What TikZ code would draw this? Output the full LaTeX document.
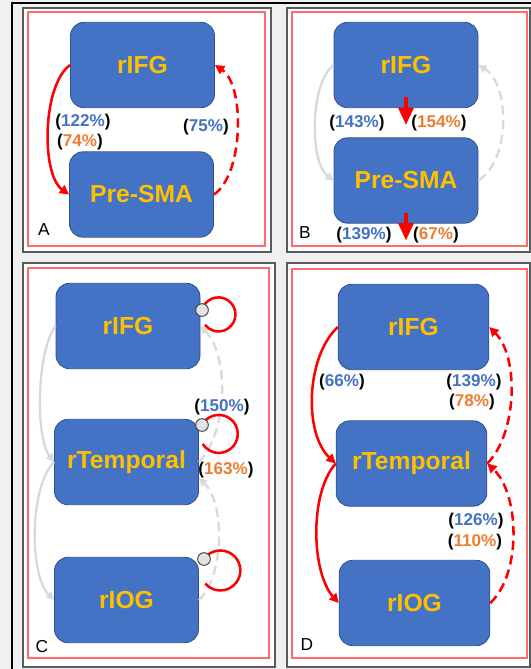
\documentclass[tikz,border=0pt]{standalone}
\usepackage{fontspec}
\setmainfont{Liberation Sans}
\usetikzlibrary{arrows.meta}
\definecolor{boxBlue}{HTML}{4472C4}
\definecolor{boxEdge}{HTML}{2F528F}
\definecolor{labelGold}{HTML}{FFC000}
\definecolor{pctBlue}{HTML}{4472C4}
\definecolor{pctOrange}{HTML}{ED7D31}
\definecolor{linkRed}{HTML}{FF0000}
\definecolor{linkGray}{HTML}{D9D9D9}
\definecolor{pageGray}{HTML}{F0F0F0}
\definecolor{frameInk}{HTML}{5A5A5A}
\definecolor{frameRed}{HTML}{FF6A6A}
\definecolor{knobGray}{HTML}{E3E3E3}
\tikzset{
  regionBox/.style={
    rectangle,
    rounded corners=10pt,
    draw=boxEdge,
    fill=boxBlue,
    line width=0.6pt,
    minimum width=108pt,
    minimum height=64pt,
    text=labelGold,
    font=\fontsize{18.5}{20}\selectfont\bfseries
  },
  pctLabel/.style={
    font=\fontsize{12.8}{14}\selectfont\bfseries,
    text=black,
    inner sep=0pt
  },
  panelTag/.style={
    font=\fontsize{13}{15}\selectfont,
    inner sep=0pt
  },
  panelFrame/.style={
    draw=frameInk,
    fill=white,
    line width=1.2pt
  },
  panelInner/.style={
    draw=frameRed,
    line width=0.8pt
  },
  redLink/.style={
    -{Triangle[length=7pt,width=7pt]},
    line width=1.9pt,
    draw=linkRed
  },
  redDashLink/.style={
    redLink,
    dash pattern=on 7pt off 4pt
  },
  grayLink/.style={
    -{Triangle[length=6pt,width=6pt]},
    line width=1.7pt,
    draw=linkGray
  },
  grayDashLink/.style={
    grayLink,
    dash pattern=on 7pt off 4pt
  },
  dropArrow/.style={
    -{Triangle[length=13pt,width=11pt]},
    line width=3pt,
    draw=linkRed
  },
  knob/.style={
    circle,
    draw=black!75,
    fill=knobGray,
    line width=0.7pt,
    minimum size=9.5pt,
    inner sep=0pt
  },
  selfLoop/.style={
    line width=1.9pt,
    draw=linkRed
  }
}

\begin{document}
\begin{tikzpicture}[x=0.75pt,y=-0.75pt]
  \useasboundingbox (0,0) rectangle (531,669);
  \fill[pageGray] (0,0) rectangle (531,669);
  \draw[black,line width=0.8pt] (531,3) -- (12,3) -- (12,669);
  % panel frames
  \draw[panelFrame] (23,8) rectangle (271,252);
  \draw[panelInner] (28,12) rectangle (265,246);
  \draw[panelFrame] (287,8) rectangle (530,252);
  \draw[panelInner] (292,12) rectangle (527,246);
  \draw[panelFrame] (23,263) rectangle (275,667);
  \draw[panelInner] (28,268) rectangle (269,658);
  \draw[panelFrame] (287,263) rectangle (530,667);
  \draw[panelInner] (292,269) rectangle (527,658);

  % A
  \node[regionBox] (aIFG) at (142.5,65) {rIFG};
  \node[regionBox] (aSMA) at (141.5,194.5) {Pre-SMA};
  \draw[redLink] (aIFG.west) .. controls +(-28,20) and +(-28,-20) .. (aSMA.west);
  \draw[redDashLink] (aSMA.east) .. controls +(30,-20) and +(30,20) .. (aIFG.east);
  \node[pctLabel] (aP1) at (83,122) {(\textcolor{pctBlue}{122\%})};
  \node[pctLabel] (aP2) at (80,142) {(\textcolor{pctOrange}{74\%})};
  \node[pctLabel] (aP3) at (206,127) {(\textcolor{pctBlue}{75\%})};
  \node[panelTag] (aTag) at (44,230) {A};

  % B
  \node[regionBox] (bIFG) at (406,65) {rIFG};
  \node[regionBox] (bSMA) at (406,180.5) {Pre-SMA};
  \draw[grayLink] (bIFG.west) .. controls +(-24,18) and +(-24,-18) .. (bSMA.west);
  \draw[grayDashLink] (bSMA.east) .. controls +(32,-20) and +(32,20) .. (bIFG.east);
  \draw[dropArrow] ([yshift=8.25pt]bIFG.south) -- ++(0,28);
  \draw[dropArrow] ([yshift=8.25pt]bSMA.south) -- ++(0,28);
  \node[pctLabel] (bP1) at (357,123) {(\textcolor{pctBlue}{143\%})};
  \node[pctLabel] (bP2) at (439,123) {(\textcolor{pctOrange}{154\%})};
  \node[pctLabel] (bP3) at (364,235) {(\textcolor{pctBlue}{139\%})};
  \node[pctLabel] (bP4) at (436,235) {(\textcolor{pctOrange}{67\%})};
  \node[panelTag] (bTag) at (305,233) {B};

  % C
  \node[regionBox] (cIFG) at (128,326) {rIFG};
  \node[regionBox] (cTemp) at (126.5,462) {rTemporal};
  \node[regionBox] (cIOG) at (126.5,600) {rIOG};
  \draw[grayLink] (cIFG.west) .. controls +(-19,25) and +(-19,-25) .. (cTemp.west);
  \draw[grayLink] (cTemp.west) .. controls +(-25,25) and +(-25,-25) .. (cIOG.west);
  \draw[grayDashLink] (cTemp.east) .. controls +(29,-30) and +(29,30) .. (cIFG.east);
  \draw[grayDashLink] (cIOG.east) .. controls +(26,-25) and +(26,25) .. ([yshift=-12pt]cTemp.east);
  \coordinate (cIFGtap) at (202,310);
  \coordinate (cTempTap) at (202,425);
  \coordinate (cIOGtap) at (204,559);
  \draw[selfLoop] (cIFGtap) arc[start angle=195, end angle=502, radius=17];
  \draw[selfLoop] (cTempTap) arc[start angle=208, end angle=508, radius=19];
  \draw[selfLoop] (cIOGtap) arc[start angle=215, end angle=499, radius=20];
  \node[knob] (cIFGknob) at (cIFGtap) {};
  \node[knob] (cTempKnob) at (cTempTap) {};
  \node[knob] (cIOGknob) at (cIOGtap) {};
  \node[pctLabel] (cP1) at (222,407) {(\textcolor{pctBlue}{150\%})};
  \node[pctLabel] (cP2) at (226,470) {(\textcolor{pctOrange}{163\%})};
  \node[panelTag] (cTag) at (42,647) {C};

  % D
  \node[regionBox,minimum width=113pt] (dIFG) at (413.5,327) {rIFG};
  \node[regionBox,minimum width=113pt] (dTemp) at (411.5,463.5) {rTemporal};
  \node[regionBox,minimum width=113pt] (dIOG) at (414.5,603) {rIOG};
  \draw[redLink] (dIFG.west) .. controls +(-32,30) and +(-32,-30) .. (dTemp.west);
  \draw[redLink] (dTemp.west) .. controls +(-27,30) and +(-27,-30) .. (dIOG.west);
  \draw[redDashLink] (dTemp.east) .. controls +(30,-30) and +(30,30) .. (dIFG.east);
  \draw[redDashLink] (dIOG.east) .. controls +(32,-30) and +(32,30) .. (dTemp.east);
  \node[pctLabel] (dP1) at (342,382) {(\textcolor{pctBlue}{66\%})};
  \node[pctLabel] (dP2) at (474,382) {(\textcolor{pctBlue}{139\%})};
  \node[pctLabel] (dP3) at (472,402) {(\textcolor{pctOrange}{78\%})};
  \node[pctLabel] (dP4) at (476,521) {(\textcolor{pctBlue}{126\%})};
  \node[pctLabel] (dP5) at (475,542) {(\textcolor{pctOrange}{110\%})};
  \node[panelTag] (dTag) at (307,645) {D};
\end{tikzpicture}
\end{document}
